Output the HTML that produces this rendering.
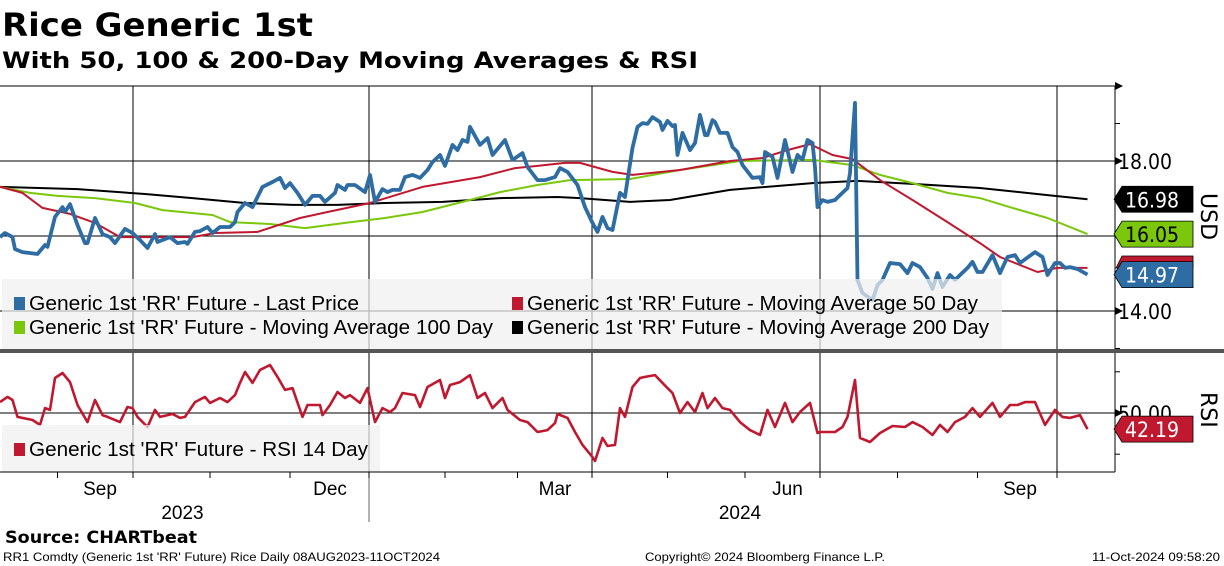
<!DOCTYPE html>
<html><head><meta charset="utf-8"><style>
html,body{margin:0;padding:0;background:#fff;}
svg{display:block;font-family:"Liberation Sans","DejaVu Sans",sans-serif;}
</style></head><body>
<svg id="chart" width="1224" height="566" viewBox="0 0 1224 566" xmlns="http://www.w3.org/2000/svg">
<text x="2" y="36" font-family="DejaVu Sans, sans-serif" font-weight="bold" font-size="32" textLength="311" lengthAdjust="spacingAndGlyphs">Rice Generic 1st</text>
<text x="2" y="68" font-family="DejaVu Sans, sans-serif" font-weight="bold" font-size="22" textLength="696" lengthAdjust="spacingAndGlyphs">With 50, 100 &amp; 200-Day Moving Averages &amp; RSI</text>
<g id="grid"></g>
<g id="series"></g>
<g id="axes"></g>
<text x="5" y="543" font-family="DejaVu Sans, sans-serif" font-weight="bold" font-size="17" textLength="192" lengthAdjust="spacingAndGlyphs">Source: CHARTbeat</text>
<text x="3" y="561" font-size="12" textLength="437" lengthAdjust="spacingAndGlyphs">RR1 Comdty (Generic 1st 'RR' Future) Rice  Daily 08AUG2023-11OCT2024</text>
<text x="645" y="561" font-size="12" textLength="240" lengthAdjust="spacingAndGlyphs">Copyright© 2024 Bloomberg Finance L.P.</text>
<text x="1092" y="561" font-size="12" textLength="128" lengthAdjust="spacingAndGlyphs">11-Oct-2024 09:58:20</text>
</svg>
<script>
const priceDays=[0,2,5,6,9,15,18,19,22,25,26,28,31,34,35,38,41,44,46,50,53,56,59,62,63,68,71,74,75,78,80,83,85,88,92,94,95,98,101,103,105,109,112,114,116,119,122,125,128,130,134,135,138,139,142,146,148,150,153,155,157,160,162,165,168,171,173,176,178,181,183,185,187,188,192,195,197,202,205,209,211,215,218,222,224,227,231,234,237,239,241,243,245,248,250,251,253,255,257,259,261,264,265,267,269,270,271,273,276,278,280,282,283,285,286,288,291,293,295,297,301,304,305,306,309,311,314,317,319,321,323,325,326,327,329,331,334,336,339,340,342,343,345,349,351,353,356,360,363,365,368,371,373,375,377,380,382,387,389,391,393,397,400,403,406,408,414,417,419,422,424,426,428,431,435];
const priceVals=[15.97,16.08,15.97,15.65,15.57,15.52,15.76,15.71,16.51,16.77,16.64,16.85,16.29,15.81,15.81,16.48,16.05,15.97,15.81,16.19,16.08,15.89,15.68,16.05,15.84,15.97,15.81,15.84,15.79,16.11,16.13,16.24,16.08,16.24,16.24,16.37,16.64,16.88,16.77,17.04,17.31,17.44,17.55,17.28,17.41,17.15,16.83,17.07,17.07,16.91,17.15,17.36,17.23,17.36,17.36,17.17,17.63,16.91,17.25,17.17,17.23,17.23,17.57,17.63,17.55,17.76,17.97,18.16,17.87,18.43,18.29,18.56,18.51,18.91,18.43,18.61,18.16,18.56,18.03,18.21,17.84,17.49,17.49,17.57,17.81,17.71,17.36,16.77,16.35,16.11,16.51,16.21,16.16,17.15,17.04,17.49,18.35,18.91,19.01,18.99,19.17,19.04,18.83,19.07,18.93,18.96,18.16,18.75,18.29,18.48,19.23,18.69,18.69,19.09,19.04,18.75,18.75,18.37,18.24,17.89,17.55,17.57,17.41,18.24,18.11,17.55,18.56,17.71,18.16,18.03,18.56,18.48,17.84,16.77,16.96,16.91,16.96,17.09,17.28,17.68,19.55,14.83,14.48,14.29,14.69,14.83,15.28,15.25,15.01,15.28,15.17,14.88,14.59,15.01,14.64,14.96,14.83,15.15,15.31,15.04,15.04,15.49,15.01,15.44,15.49,15.28,15.57,15.44,14.96,15.28,15.28,15.15,15.17,15.12,14.97];
const ma50Days=[0,9,17,28,38,48,77,86,103,120,131,148,169,192,206,215,226,232,245,253,272,292,305,315,324,333,341,352,365,379,392,400,415,423,435];
const ma50Vals=[17.31,17.15,16.75,16.59,16.35,15.97,15.97,16.08,16.11,16.48,16.64,16.88,17.31,17.57,17.81,17.87,17.95,17.95,17.71,17.63,17.76,18.00,18.08,18.29,18.45,18.16,18.05,17.49,16.96,16.37,15.81,15.44,15.04,15.15,15.15];
const ma100Days=[0,12,23,38,54,65,85,92,108,122,138,154,169,185,200,215,228,252,272,296,325,341,352,365,379,392,405,419,435];
const ma100Vals=[17.31,17.15,17.07,17.01,16.88,16.69,16.56,16.37,16.32,16.21,16.35,16.48,16.64,16.91,17.17,17.36,17.49,17.52,17.76,18.00,18.03,17.89,17.63,17.41,17.15,17.01,16.75,16.48,16.05];
const ma200Days=[0,31,58,77,98,117,135,154,177,200,223,232,252,268,292,325,343,365,392,419,435];
const ma200Vals=[17.31,17.25,17.12,17.01,16.88,16.83,16.83,16.88,16.91,17.01,17.04,17.01,16.91,16.96,17.23,17.41,17.47,17.39,17.28,17.09,16.98];
const rsiDays=[0,3,5,7,13,16,18,20,22,25,28,31,35,38,41,43,48,51,53,55,59,62,64,69,72,74,78,82,84,88,91,94,96,98,101,104,108,111,114,117,121,123,128,129,132,135,138,140,144,147,150,153,156,158,161,166,168,171,176,178,180,184,188,191,194,197,201,203,208,211,215,219,222,223,227,230,233,237,238,241,243,246,248,250,253,256,258,262,267,269,272,275,278,281,283,286,289,292,296,300,304,307,310,314,317,320,324,327,328,334,337,339,342,344,348,352,357,362,365,369,373,376,379,382,386,389,392,397,400,404,407,410,414,418,422,425,428,432,435];
const rsiVals=[55.3,57.8,56.3,48.1,46.6,44.2,52.4,51.5,67.0,69.4,65.0,53.9,45.6,56.3,49.0,48.1,45.6,52.9,52.4,48.1,43.2,51.5,48.1,49.5,47.6,48.1,55.3,57.8,54.9,57.3,55.3,58.7,64.6,69.9,64.6,70.9,73.3,67.5,61.2,62.1,48.1,53.9,53.9,49.0,53.9,60.2,57.3,58.7,54.9,62.1,45.6,52.4,50.5,52.4,59.7,58.7,52.9,62.6,66.0,57.3,63.6,65.0,68.4,57.3,59.7,52.4,57.3,51.5,46.6,45.6,40.8,41.7,45.1,49.5,47.6,40.8,34.5,28.6,26.7,37.9,34.0,34.5,52.4,48.1,62.6,67.0,67.5,68.4,62.1,59.7,50.0,55.3,50.5,59.7,52.4,57.3,52.4,51.5,45.6,41.7,39.3,51.5,43.2,54.9,45.6,50.5,54.9,40.3,40.8,40.8,43.2,48.1,66.0,37.9,35.9,40.3,43.7,43.2,45.6,43.2,39.3,44.2,40.8,45.6,48.1,52.4,48.1,54.9,48.1,53.9,53.9,55.3,55.3,44.2,51.5,48.1,47.6,49.0,42.19];
const priceTicks=[14,18];
const priceTickLabels=["14.00","18.00"];
const rsiTicks=[50];
const rsiTickLabels=["50.00"];
const gridDays=[53.2,147.6,236.8,328,422.8];
const monthLabels=["Sep","Dec","Mar","Jun","Sep"];
const monthLabelDays=[40,132,222,315,408];
const monthTickDays=[23,53.2,84,116,147.6,178,207,236.8,267,298,328,359,391,422.8];
const yearLabels=["2023","2024"];
const yearLabelDays=[73,296];

const NS="http://www.w3.org/2000/svg";
const X0=0, PX=2.5, AXR=1115;
function xScale(d){return X0+d*PX;}
function yPrice(v){return 161+(18-v)*37.5;}
function yRsi(r){return 413-(r-50)*2.06;}
function mk(parent,tag,attrs){const e=document.createElementNS(NS,tag);for(const k in attrs)e.setAttribute(k,attrs[k]);parent.appendChild(e);return e;}
const grid=document.getElementById('grid'),series=document.getElementById('series'),axes=document.getElementById('axes');

let g;
g=mk(grid,'line',{x1:0,x2:AXR,y1:86,y2:86,stroke:'#000','stroke-width':1});


priceTicks.forEach((t,i)=>{const l=mk(grid,'line',{x1:0,x2:AXR,y1:yPrice(t),y2:yPrice(t),stroke:'#000','stroke-width':1});

});
mk(grid,'line',{x1:0,x2:AXR,y1:yPrice(16),y2:yPrice(16),stroke:'#000','stroke-width':1});
rsiTicks.forEach(t=>{const l=mk(grid,'line',{x1:0,x2:AXR,y1:yRsi(t),y2:yRsi(t),stroke:'#000','stroke-width':1});

});
gridDays.forEach(d=>{const l=mk(grid,'line',{x1:xScale(d),x2:xScale(d),y1:86,y2:478,stroke:'#000','stroke-width':1});

});

function path(days,vals,yf,color,w,name){
  let d='';days.forEach((dd,i)=>{d+=(i?'L':'M')+xScale(dd).toFixed(1)+','+yf(vals[i]).toFixed(1);});
  const p=mk(series,'path',{d:d,fill:'none',stroke:color,'stroke-width':w,'stroke-linejoin':'round'});
  
  
}
path(ma200Days,ma200Vals,yPrice,'#000',2,'ma200-line');
path(ma100Days,ma100Vals,yPrice,'#7ac70c',2,'ma100-line');
path(ma50Days,ma50Vals,yPrice,'#c0182e',2,'ma50-line');
path(priceDays,priceVals,yPrice,'#2e6ca4',3.8,'last-price-line');
path(rsiDays,rsiVals,yRsi,'#c0182e',2.6,'rsi-line');

function legend(x,y,w,h,name){const r=mk(series,'rect',{x:x,y:y,width:w,height:h,fill:'rgba(240,240,240,0.72)'});

}
legend(2,279,1000,70,'price-legend');
legend(2,425,378,47,'rsi-legend');
function entry(x,y,color,text,len,name){
  const s=mk(series,'rect',{x:x,y:y-13,width:11,height:13,fill:color});
  
  
  const t=mk(series,'text',{x:x+15,y:y,'font-size':20,fill:'#000',textLength:len,lengthAdjust:'spacingAndGlyphs'});t.textContent=text;
  
  
}
entry(14,310,'#2e6ca4',"Generic 1st 'RR' Future - Last Price",330,'legend-entry-last-price');
entry(512,310,'#c0182e',"Generic 1st 'RR' Future - Moving Average 50 Day",451,'legend-entry-ma50');
entry(14,334,'#7ac70c',"Generic 1st 'RR' Future - Moving Average 100 Day",464,'legend-entry-ma100');
entry(512,334,'#000',"Generic 1st 'RR' Future - Moving Average 200 Day",462,'legend-entry-ma200');
entry(14,456,'#c0182e',"Generic 1st 'RR' Future - RSI 14 Day",339,'legend-entry-rsi');

let a;
a=mk(axes,'line',{x1:AXR,x2:AXR,y1:86,y2:472,stroke:'#000','stroke-width':1});


a=mk(axes,'line',{x1:0,x2:AXR,y1:472,y2:472,stroke:'#000','stroke-width':1});


a=mk(axes,'rect',{x:0,y:349,width:1224,height:4,fill:'#555'});


function arrow(y){mk(axes,'path',{d:`M${AXR},${y-4}L${AXR+8},${y}L${AXR},${y+4}Z`,fill:'#000'});}
arrow(86);
priceTicks.forEach((t,i)=>{arrow(yPrice(t));const tx=mk(axes,'text',{x:1118,y:yPrice(t)+8,'font-size':21,'font-family':'DejaVu Sans Condensed, DejaVu Sans, sans-serif'});tx.textContent=priceTickLabels[i];

});
rsiTicks.forEach((t,i)=>{arrow(yRsi(t));const tx=mk(axes,'text',{x:1118,y:yRsi(t)+8,'font-size':21,'font-family':'DejaVu Sans Condensed, DejaVu Sans, sans-serif'});tx.textContent=rsiTickLabels[i];

});
[19,17,15,13].forEach(v=>mk(axes,'line',{x1:AXR,x2:AXR+5,y1:yPrice(v),y2:yPrice(v),stroke:'#000'}));
[70,30].forEach(v=>mk(axes,'line',{x1:AXR,x2:AXR+5,y1:yRsi(v),y2:yRsi(v),stroke:'#000'}));
monthTickDays.forEach(d=>mk(axes,'line',{x1:xScale(d),x2:xScale(d),y1:472,y2:478,stroke:'#000'}));
monthLabels.forEach((m,i)=>{const t=mk(axes,'text',{x:xScale(monthLabelDays[i]),y:495,'font-size':19,'text-anchor':'middle'});t.textContent=m;

});
yearLabels.forEach((m,i)=>{const t=mk(axes,'text',{x:xScale(yearLabelDays[i]),y:519,'font-size':19,'text-anchor':'middle'});t.textContent=m;

});
mk(axes,'line',{x1:xScale(gridDays[1]),x2:xScale(gridDays[1]),y1:478,y2:522,stroke:'#000','stroke-width':0.6});

a=mk(axes,'text',{x:0,y:0,'font-size':22,transform:'translate(1201,193) rotate(90)','font-family':'DejaVu Sans, sans-serif'});a.textContent='USD';


a=mk(axes,'text',{x:0,y:0,'font-size':22,transform:'translate(1201,392) rotate(90)','font-family':'DejaVu Sans, sans-serif'});a.textContent='RSI';



function tag(yc,fill,txtColor,text,name){
  const g=mk(axes,'g',{});
  
  
  mk(g,'path',{d:`M1114,${yc}L1122,${yc-13}L1193,${yc-13}L1193,${yc+13}L1122,${yc+13}Z`,fill:fill,stroke:'#000','stroke-width':0.8});
  const t=mk(g,'text',{x:1125,y:yc+8,'font-size':21,fill:txtColor,'font-family':'DejaVu Sans Condensed, DejaVu Sans, sans-serif'});t.textContent=text;
}
tag(yPrice(ma200Vals[ma200Vals.length-1]),'#000','#fff',ma200Vals[ma200Vals.length-1].toFixed(2),'ma200-value-tag');
tag(yPrice(ma100Vals[ma100Vals.length-1]),'#7ac70c','#000',ma100Vals[ma100Vals.length-1].toFixed(2),'ma100-value-tag');
mk(axes,'path',{d:`M1116,268L1122,256L1193,256L1193,268Z`,fill:'#c0182e',stroke:'#000','stroke-width':0.8});
tag(yPrice(priceVals[priceVals.length-1]),'#2e6ca4','#fff',priceVals[priceVals.length-1].toFixed(2),'price-value-tag');
tag(yRsi(rsiVals[rsiVals.length-1]),'#c0182e','#fff',rsiVals[rsiVals.length-1].toFixed(2),'rsi-value-tag');
</script>
</body></html>
